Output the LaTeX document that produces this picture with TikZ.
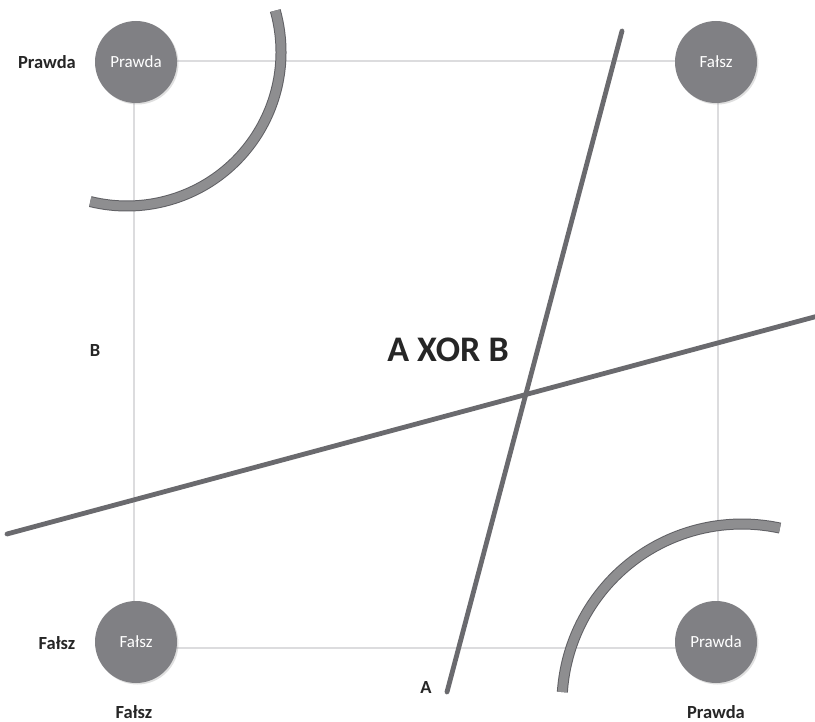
\documentclass[tikz,border=0pt]{standalone}
\usepackage{fontspec}
\setmainfont{Carlito}
\usetikzlibrary{shadows}
\definecolor{circfill}{HTML}{808084}
\definecolor{gridcol}{HTML}{DCDCDE}
\definecolor{arcedge}{HTML}{606064}
\definecolor{arcfill}{HTML}{8E8E90}
\definecolor{linecol}{HTML}{6A6A6E}
\definecolor{labelcol}{HTML}{262626}
\tikzset{
  truthnode/.style={circle, fill=circfill, minimum size=82pt, inner sep=0pt,
    text=white, font=\fontsize{17}{17}\selectfont,
    drop shadow={shadow xshift=1.5pt, shadow yshift=-1.5pt, opacity=0.25}},
  gridline/.style={draw=gridcol, line width=1.4pt},
  axislabel/.style={text=labelcol, font=\bfseries\fontsize{18.5}{18.5}\selectfont, inner sep=0pt},
  arcouter/.style={draw=arcedge, line width=11pt},
  arcinner/.style={draw=arcfill, line width=9pt},
  splitline/.style={draw=linecol, line width=4.8pt, line cap=round}
}
\begin{document}
\begin{tikzpicture}[x=1pt,y=-1pt]
\useasboundingbox[fill=white] (0,0) rectangle (815,722);

% corner positions
\path (136,62) coordinate (ctl) (716,62) coordinate (ctr)
      (136,642) coordinate (cbl) (716,642) coordinate (cbr);

% grid lines
\draw[gridline] ([yshift=1pt]ctl) -- ([yshift=1pt]ctr);
\draw[gridline] ([yshift=-6pt]cbl) -- ([yshift=-6pt]cbr);
\draw[gridline] ([xshift=-2pt]ctl) -- ([xshift=-2pt]cbl);
\draw[gridline] ([xshift=2pt]ctr) -- ([xshift=2pt]cbr);

% circles
\node[truthnode] (tl) at (ctl) {Prawda};
\node[truthnode] (tr) at (ctr) {Fałsz};
\node[truthnode] (bl) at (cbl) {Fałsz};
\node[truthnode] (br) at (cbr) {Prawda};

% arcs
\coordinate (arcA) at (275.3,10.6);
\coordinate (arcB) at (780,528.1);
\draw[arcouter] (arcA) arc[start angle=15.6, end angle=-103.8, radius=154pt];
\draw[arcinner] (arcA) arc[start angle=15.6, end angle=-103.8, radius=154pt];
\draw[arcouter] (arcB) arc[start angle=77.8, end angle=176.2, radius=180pt];
\draw[arcinner] (arcB) arc[start angle=77.8, end angle=176.2, radius=180pt];

% separating lines
\coordinate (l1a) at (622,31);
\coordinate (l1b) at (447,692);
\coordinate (l2a) at (7,534);
\coordinate (l2b) at (818,316);
\draw[splitline] (l1a) -- (l1b);
\draw[splitline] (l2a) -- (l2b);

% labels
\node[axislabel] (lp) at (47,62) {Prawda};
\node[axislabel] (lf) at (57,643) {Fałsz};
\node[axislabel] (lb) at (95,351) {B};
\node[axislabel] (la) at (426,688) {A};
\node[axislabel] (bf) at (134,712) {Fałsz};
\node[axislabel] (bp) at (716,712) {Prawda};
\node[text=labelcol, font=\bfseries\fontsize{36}{36}\selectfont, inner sep=0pt] (title) at (448,350) {A XOR B};
\end{tikzpicture}
\end{document}
